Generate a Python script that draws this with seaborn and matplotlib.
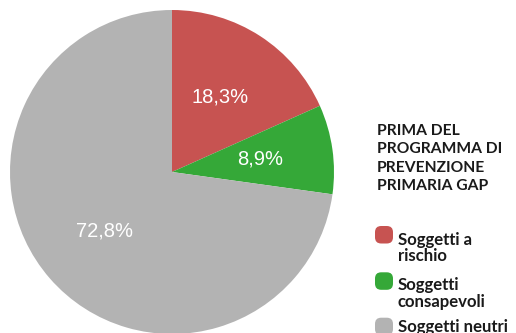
import matplotlib
matplotlib.use("Agg")
import matplotlib.pyplot as plt
from matplotlib.patches import FancyBboxPatch
import seaborn as sns

categories = ["Soggetti a\nrischio", "Soggetti\nconsapevoli", "Soggetti neutri"]
shares = [18.3, 8.9, 72.8]
colors = ["#C75351", "#35A838", "#B3B3B3"]
title = "PRIMA DEL\nPROGRAMMA DI\nPREVENZIONE\nPRIMARIA GAP"

sns.set_theme(style="white")
plt.rcParams["font.family"] = ["Liberation Sans", "DejaVu Sans"]

W, H = 516, 333
fig = plt.figure(figsize=(W / 100, H / 100), dpi=100)
fig.patch.set_facecolor("white")
renderer = fig.canvas.get_renderer()


def fit_size(text, width_px, size=12.0, **kw):
    """Font size at which a single line of text is width_px pixels wide."""
    for _ in range(3):
        t = fig.text(0, 0, text, fontsize=size, **kw)
        w = t.get_window_extent(renderer).width
        t.remove()
        size *= width_px / w
    return size


# pie centred at (172, 172) px from the top-left, radius 162 px
cx, cy, r = 172, 172, 162
ax = fig.add_axes([(cx - r) / W, (H - cy - r) / H, 2 * r / W, 2 * r / H])
ax.pie(
    shares,
    colors=colors,
    startangle=90,
    counterclock=False,
    autopct=lambda p: f"{p:.1f}%".replace(".", ","),
    pctdistance=0.55,
    wedgeprops=dict(linewidth=0),
    textprops=dict(color="white", fontsize=14.5, family="Liberation Sans"),
)
ax.set_xlim(-1, 1)
ax.set_ylim(-1, 1)
ax.set_aspect("equal")
ax.axis("off")

font = dict(fontweight="bold", family="Lato")
title_size = fit_size("PROGRAMMA DI", 126, **font)
item_size = fit_size("consapevoli", 89, **font)

# side legend (positions in px from the top-left; text anchored on its last baseline)
fig.text(377 / W, 1 - 190.5 / H, title, ha="left", va="baseline",
         fontsize=title_size, linespacing=1.42, color="#1a1a1a", **font)

square_tops = [226, 272.3, 317.7]
last_baselines = [261.3, 306.7, 332.0]
for lab, col, top, base in zip(categories, colors, square_tops, last_baselines):
    box = FancyBboxPatch((375 / W, 1 - (top + 17.5) / H), 18 / W, 17.5 / H,
                         boxstyle="round,pad=0,rounding_size=0.012",
                         transform=fig.transFigure, facecolor=col,
                         edgecolor="none", mutation_aspect=W / H)
    fig.patches.append(box)
    fig.text(398 / W, 1 - base / H, lab, ha="left", va="baseline",
             fontsize=item_size, linespacing=1.05, color="#1a1a1a", **font)

fig.savefig("out.png", dpi=100, facecolor="white")
